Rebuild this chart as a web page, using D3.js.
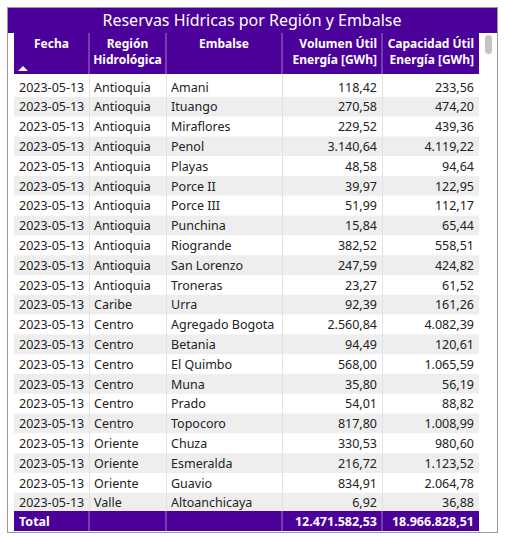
<!DOCTYPE html>
<html><head><meta charset="utf-8">
<script src="https://cdn.jsdelivr.net/npm/d3@7"></script>
<style>body{margin:0;background:#fff;font-family:"Noto Sans",sans-serif;}</style>
</head><body><svg id="viz" width="505" height="536"></svg>
<script>
const TITLE = 'Reservas Hídricas por Región y Embalse';
const HEADERS = [['Fecha'], ['Región', 'Hidrológica'], ['Embalse'], ['Volumen Útil', 'Energía [GWh]'], ['Capacidad Útil', 'Energía [GWh]']];
const fechas = Array(22).fill('2023-05-13');
const regiones = ['Antioquia','Antioquia','Antioquia','Antioquia','Antioquia','Antioquia','Antioquia','Antioquia','Antioquia','Antioquia','Antioquia',
  'Caribe','Centro','Centro','Centro','Centro','Centro','Centro','Oriente','Oriente','Oriente','Valle'];
const embalses = ['Amani','Ituango','Miraflores','Penol','Playas','Porce II','Porce III','Punchina','Riogrande','San Lorenzo','Troneras',
  'Urra','Agregado Bogota','Betania','El Quimbo','Muna','Prado','Topocoro','Chuza','Esmeralda','Guavio','Altoanchicaya'];
const volumen = ['118,42','270,58','229,52','3.140,64','48,58','39,97','51,99','15,84','382,52','247,59','23,27',
  '92,39','2.560,84','94,49','568,00','35,80','54,01','817,80','330,53','216,72','834,91','6,92'];
const capacidad = ['233,56','474,20','439,36','4.119,22','94,64','122,95','112,17','65,44','558,51','424,82','61,52',
  '161,26','4.082,39','120,61','1.065,59','56,19','88,82','1.008,99','980,60','1.123,52','2.064,78','36,88'];
const TOTALS = ['Total', '', '', '12.471.582,53', '18.966.828,51'];

const PURPLE = '#4a0099';
const svg = d3.select('#viz');
const colEdges = [14, 89, 166, 282, 382, 479];
const align = ['start', 'start', 'start', 'end', 'end'];
const colX = i => align[i] === 'end' ? colEdges[i + 1] - 5 : colEdges[i] + 5;

// frame + title
svg.append('rect').attr('x', 7.5).attr('y', 7.5).attr('width', 490).attr('height', 525)
   .attr('fill', 'none').attr('stroke', '#999');
svg.append('rect').attr('x', 8).attr('y', 8).attr('width', 489).attr('height', 25).attr('fill', PURPLE);
svg.append('text').attr('x', 252).attr('y', 26).attr('text-anchor', 'middle')
   .attr('fill', '#fff').attr('font-size', '16px').text(TITLE);

// header
svg.append('rect').attr('x', 14).attr('y', 33).attr('width', 465).attr('height', 41).attr('fill', PURPLE);
HEADERS.forEach((h, i) => {
  const cx = (colEdges[i] + colEdges[i + 1]) / 2;
  const t = svg.append('text').attr('fill', '#fff').attr('font-size', '12px').attr('font-weight', 'bold')
    .attr('text-anchor', i >= 3 ? 'end' : 'middle').attr('x', i >= 3 ? colEdges[i + 1] - 5 : cx);
  h.forEach((line, j) => t.append('tspan').attr('x', i >= 3 ? colEdges[i + 1] - 5 : cx).attr('y', 48 + j * 16).text(line));
});
svg.append('path').attr('d', 'M18,71 L23,66 L28,71 Z').attr('fill', '#fff');
svg.selectAll('line.hsep').data(colEdges.slice(1, -1)).join('line').attr('class', 'hsep')
   .attr('x1', d => d).attr('x2', d => d).attr('y1', 33).attr('y2', 74).attr('stroke', '#9a7acc');

// rows
const rows = d3.range(embalses.length).map(i => [fechas[i], regiones[i], embalses[i], volumen[i], capacidad[i]]);
const y = d3.scaleBand().domain(d3.range(rows.length)).range([77, 77 + rows.length * 19.8]);
const g = svg.append('g').attr('font-size', '12.5px').attr('fill', '#222');
g.selectAll('rect').data(rows).join('rect')
  .attr('x', 14).attr('width', 465).attr('y', (d, i) => y(i)).attr('height', y.bandwidth())
  .attr('fill', (d, i) => i % 2 ? '#eeeeee' : '#fff');
rows.forEach((r, i) => {
  r.forEach((v, c) => g.append('text').attr('x', colX(c)).attr('y', y(i) + 14.5)
    .attr('text-anchor', align[c]).text(v));
});
svg.selectAll('line.rsep').data(colEdges.slice(1, -1)).join('line').attr('class', 'rsep')
   .attr('x1', d => d + 0.5).attr('x2', d => d + 0.5).attr('y1', 74).attr('y2', 511).attr('stroke', '#e2e2e2');

// total
svg.append('rect').attr('x', 14).attr('y', 511).attr('width', 465).attr('height', 20).attr('fill', PURPLE);
svg.selectAll('line.tsep').data(colEdges.slice(1, -1)).join('line').attr('class', 'tsep')
   .attr('x1', d => d).attr('x2', d => d).attr('y1', 511).attr('y2', 531).attr('stroke', '#9a7acc');
TOTALS.forEach((v, c) => svg.append('text').attr('x', colX(c)).attr('y', 526).attr('text-anchor', align[c])
  .attr('fill', '#fff').attr('font-size', '12.5px').attr('font-weight', 'bold').text(v));

// scrollbar
svg.append('rect').attr('x', 485).attr('y', 35).attr('width', 7).attr('height', 19).attr('rx', 3.5).attr('fill', '#c4c4c4');
</script></body></html>
